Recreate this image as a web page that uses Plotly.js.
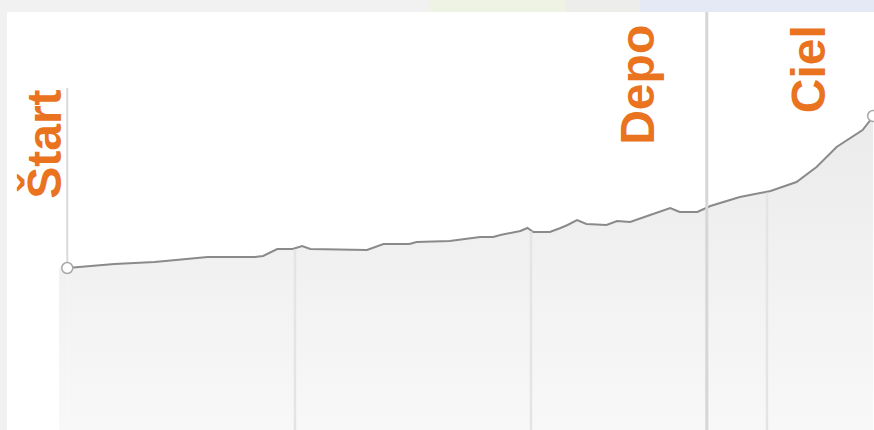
<!DOCTYPE html>
<html>
<head>
<meta charset="utf-8">
<script src="https://cdn.plot.ly/plotly-3.0.1.min.js"></script>
<style>
html,body{margin:0;padding:0;background:#f1f1f1;}
#chart{width:874px;height:430px;}
</style>
</head>
<body>
<div id="chart"></div>
<script>
// Course profile: distance (km) and elevation (m)
const distanceKm = [0.07, 0.16, 0.47, 0.81, 1.19, 1.26, 1.66, 1.73, 1.85, 1.98, 2.06, 2.13, 2.61, 2.75, 2.97, 3.03, 3.31, 3.51, 3.57, 3.68, 3.74, 3.91, 3.97, 4.02, 4.16, 4.25, 4.31, 4.39, 4.47, 4.64, 4.73, 4.84, 4.92, 5.01, 5.18, 5.26, 5.41, 5.52, 5.77, 6.03, 6.25, 6.42, 6.59, 6.81, 6.89, 6.90];
const elevationM = [162, 163, 166, 168, 172, 173, 173, 174, 181, 181, 184, 181, 180, 186, 186, 188, 189, 192, 193, 193, 195, 199, 202, 198, 198, 202, 205, 210, 206, 205, 209, 208, 211, 215, 222, 218, 218, 224, 233, 239, 248, 263, 283, 300, 312, 314];
const gridKm = [2, 4, 6];
const depoKm = 5.49;
const labels = ["Štart", "Depo", "Ciel"];

const xMax = 6.907;
const yMax = 418;
const orange = "#e9731f";

function interp(x) {
  for (let i = 1; i < distanceKm.length; i++) {
    if (x <= distanceKm[i]) {
      const t = (x - distanceKm[i-1]) / (distanceKm[i] - distanceKm[i-1]);
      return elevationM[i-1] + t * (elevationM[i] - elevationM[i-1]);
    }
  }
  return elevationM[elevationM.length - 1];
}

const n = distanceKm.length;
const grad = {type: "vertical", start: 0, stop: 330, colorscale: [[0, "#f8f8f8"], [1, "#eaeaea"]]};

const traces = [
  { // lead-in fill left of start
    x: [0, distanceKm[0]], y: [elevationM[0], elevationM[0]],
    mode: "lines", line: {width: 0, color: "rgba(0,0,0,0)"},
    fill: "tozeroy", fillgradient: grad, hoverinfo: "skip", showlegend: false
  },
  {
    x: distanceKm, y: elevationM,
    mode: "lines", line: {color: "#8a8a8a", width: 2, shape: "linear"},
    fill: "tozeroy", fillgradient: grad, showlegend: false
  },
  {
    x: [distanceKm[0], distanceKm[n-1]], y: [elevationM[0], elevationM[n-1]],
    mode: "markers", cliponaxis: false,
    marker: {size: 11, color: "#ffffff", line: {color: "#a8a8a8", width: 1.5}},
    showlegend: false
  }
];

const labelTopStart = (430 - 88) / 418;
const labelTopOther = (430 - 23) / 418;

const shapes = [
  // top strip decorative background
  {type: "rect", xref: "paper", yref: "paper", x0: -59/815, x1: (430-59)/815, y0: 1, y1: 1 + 12/418, fillcolor: "#f1f1f1", line: {width: 0}, layer: "below"},
  {type: "rect", xref: "paper", yref: "paper", x0: (430-59)/815, x1: (565-59)/815, y0: 1, y1: 1 + 12/418, fillcolor: "#eef3e3", line: {width: 0}, layer: "below"},
  {type: "rect", xref: "paper", yref: "paper", x0: (565-59)/815, x1: (640-59)/815, y0: 1, y1: 1 + 12/418, fillcolor: "#ededeb", line: {width: 0}, layer: "below"},
  {type: "rect", xref: "paper", yref: "paper", x0: (640-59)/815, x1: 1, y0: 1, y1: 1 + 12/418, fillcolor: "#e5e9f5", line: {width: 0}, layer: "below"},
  // white panel left of plot
  {type: "rect", xref: "paper", yref: "paper", x0: -52/815, x1: 0, y0: 0, y1: 1, fillcolor: "#ffffff", line: {width: 0}, layer: "below"}
];
gridKm.forEach(g => shapes.push({
  type: "line", xref: "x", yref: "y", x0: g, x1: g, y0: 0, y1: interp(g) - 1,
  line: {color: "#e4e4e4", width: 2.5}, layer: "above"
}));
shapes.push({type: "line", xref: "x", yref: "paper", x0: depoKm, x1: depoKm, y0: 0, y1: 1,
  line: {color: "#d6d6d6", width: 3}, layer: "above"});
shapes.push({type: "line", xref: "x", yref: "y", x0: distanceKm[0], x1: distanceKm[0], y0: elevationM[0], y1: labelTopStart * yMax,
  line: {color: "#dadada", width: 2}, layer: "below"});

const font = {family: "Liberation Sans, Arial, sans-serif", size: 48, color: orange, weight: "bold"};
const annotations = [
  {text: "<b>" + labels[0] + "</b>", x: distanceKm[0], xref: "x", xshift: -24, y: labelTopStart, yref: "paper", xanchor: "center", yanchor: "top", textangle: -90, showarrow: false, font: font},
  {text: "<b>" + labels[1] + "</b>", x: depoKm, xref: "x", xshift: -69, y: labelTopOther, yref: "paper", xanchor: "center", yanchor: "top", textangle: -90, showarrow: false, font: font},
  {text: "<b>" + labels[2] + "</b>", x: distanceKm[n-1], xref: "x", xshift: -64, y: labelTopOther, yref: "paper", xanchor: "center", yanchor: "top", textangle: -90, showarrow: false, font: font}
];

const layout = {
  width: 874, height: 430,
  margin: {l: 59, r: 0, t: 12, b: 0, pad: 0},
  paper_bgcolor: "#f1f1f1",
  plot_bgcolor: "#ffffff",
  xaxis: {range: [0, xMax], showgrid: false, zeroline: false, showticklabels: false, showline: false, ticks: ""},
  yaxis: {range: [0, yMax], showgrid: false, zeroline: false, showticklabels: false, showline: false, ticks: ""},
  shapes: shapes,
  annotations: annotations,
  showlegend: false
};

Plotly.newPlot("chart", traces, layout, {displayModeBar: false, staticPlot: true});
</script>
</body>
</html>
